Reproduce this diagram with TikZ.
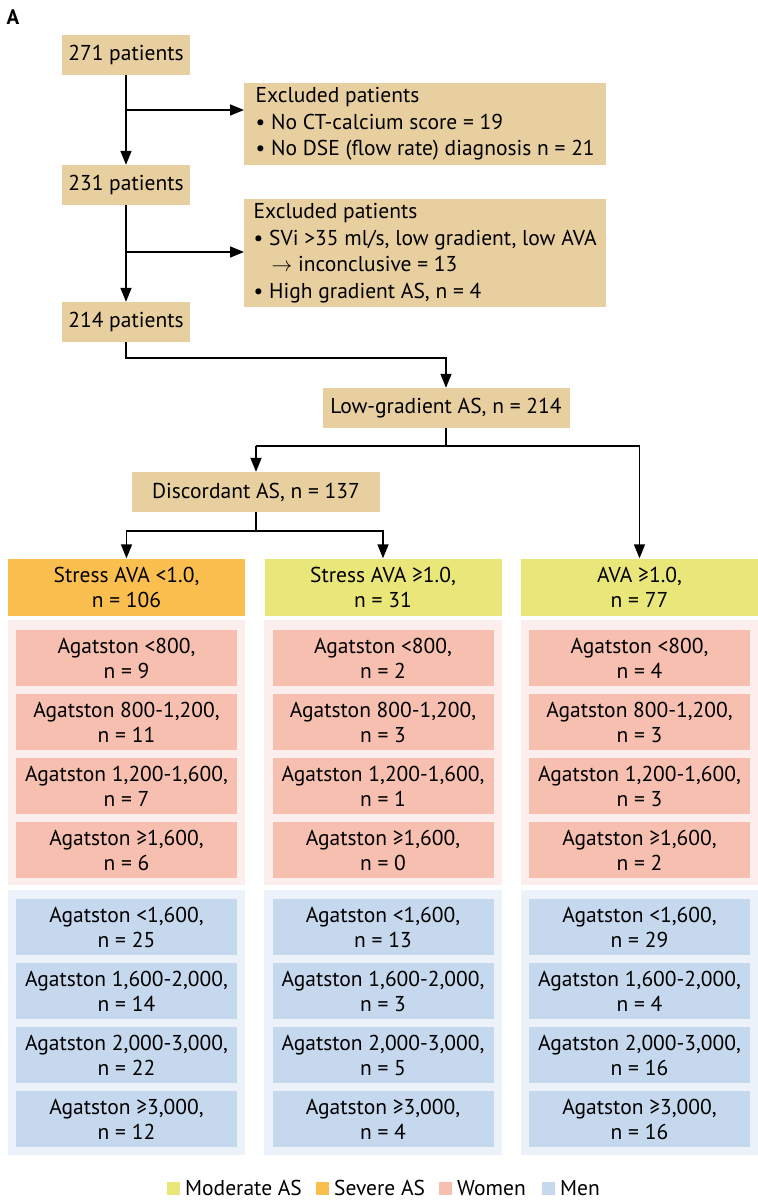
\documentclass[tikz,border=0pt]{standalone}
\usepackage{fontspec}
\setmainfont{PT Sans}
\usetikzlibrary{arrows.meta}
\definecolor{tan}{HTML}{E8CFA0}
\definecolor{sev}{HTML}{FBBF4F}
\definecolor{mod}{HTML}{EAE77A}
\definecolor{wom}{HTML}{F6BFB0}
\definecolor{men}{HTML}{C5D8EE}
\definecolor{wbg}{HTML}{FCEEEC}
\definecolor{mbg}{HTML}{EBF2FA}
\begin{document}
\begin{tikzpicture}[x=1pt,y=-1pt,
  every node/.style={font=\fontsize{21.5}{25}\selectfont, inner sep=0pt},
  tb/.style={fill=tan, minimum height=40pt, align=center},
  ex/.style={fill=tan, align=left, minimum width=362pt, anchor=north west, font=\fontsize{21.5}{26.5}\selectfont},
  hd/.style={minimum width=237pt, minimum height=57pt, align=center},
  cell/.style={minimum width=221pt, minimum height=56pt, align=center},
  ln/.style={line width=1.6pt},
  ar/.style={line width=1.6pt,-{Triangle[length=14pt,width=11pt]}}]
\useasboundingbox (0,0) rectangle (758,1200);
\node[font=\fontsize{21}{25}\selectfont\bfseries] (A) at (13,17) {A};
\node[tb, minimum width=128pt] (p271) at (126,55) {271 patients};
\node[tb, minimum width=128pt] (p231) at (126,185) {231 patients};
\node[tb, minimum width=128pt] (p214) at (126,322) {214 patients};
\node[ex, minimum height=82pt] (e1) at (244,83) {Excluded patients\\\textbullet{} No CT-calcium score = 19\\\textbullet{} No DSE (flow rate) diagnosis n = 21};
\node[ex, minimum height=108pt] (e2) at (244,199) {Excluded patients\\\textbullet{} SVi >35 ml/s, low gradient, low AVA\\\hspace*{18pt}$\rightarrow$ inconclusive = 13\\\textbullet{} High gradient AS, n = 4};
\node[tb, minimum width=247pt] (lg) at (446,408) {Low-gradient AS, n = 214};
\node[tb, minimum width=248pt] (dc) at (256,492) {Discordant AS, n = 137};
% panels
\fill[wbg] (8,620) rectangle (245,885);
\fill[wbg] (264,620) rectangle (502,885);
\fill[wbg] (521,620) rectangle (758,885);
\fill[mbg] (8,890) rectangle (245,1155);
\fill[mbg] (264,890) rectangle (502,1155);
\fill[mbg] (521,890) rectangle (758,1155);
\node[hd, fill=sev] (h1) at (126.5,587) {Stress AVA <1.0,\\n = 106};
\node[hd, fill=mod] (h2) at (383,587) {Stress AVA ≥1.0,\\n = 31};
\node[hd, fill=mod] (h3) at (639.5,587) {AVA ≥1.0,\\n = 77};
\foreach \c/\x/\a/\b/\cc/\d/\e/\f/\g/\h in {1/126.5/9/11/7/6/25/14/22/12, 2/383/2/3/1/0/13/3/5/4, 3/639.5/4/3/3/2/29/4/16/16}{
  \node[cell, fill=wom] (w1\c) at (\x,658) {Agatston <800,\\n = \a};
  \node[cell, fill=wom] (w2\c) at (\x,722) {Agatston 800-1,200,\\n = \b};
  \node[cell, fill=wom] (w3\c) at (\x,786) {Agatston 1,200-1,600,\\n = \cc};
  \node[cell, fill=wom] (w4\c) at (\x,850) {Agatston ≥1,600,\\n = \d};
  \node[cell, fill=men] (m1\c) at (\x,927) {Agatston <1,600,\\n = \e};
  \node[cell, fill=men] (m2\c) at (\x,991) {Agatston 1,600-2,000,\\n = \f};
  \node[cell, fill=men] (m3\c) at (\x,1055) {Agatston 2,000-3,000,\\n = \g};
  \node[cell, fill=men] (m4\c) at (\x,1119) {Agatston ≥3,000,\\n = \h};
}
% connectors
\coordinate (b1) at (126,110);
\coordinate (b2) at (126,252);
\draw[ar] (p271) -- (p231);
\draw[ar] (b1) -- (b1 -| e1.west);
\draw[ar] (p231) -- (p214);
\draw[ar] (b2) -- (b2 -| e2.west);
\draw[ar] (p214.south) |- (446,358) -- (lg.north);
\coordinate (j1) at (446,446);
\draw[ln] (lg.south) -- (j1);
\draw[ar] (256,446) -- (dc.north);
\draw[ar] (256,446) -| (h3.north);
\draw[ln] (256,446) -- (j1);
\draw[ln] (dc.south) -- (256,531);
\draw[ar] (256,531) -| (h1.north);
\draw[ar] (256,531) -| (h2.north);
% legend
\node[fill=mod, minimum size=13pt] (l1) at (173,1188) {};
\node[anchor=west] (t1) at (185,1188) {Moderate AS};
\node[fill=sev, minimum size=13pt] (l2) at (322,1188) {};
\node[anchor=west] (t2) at (334,1188) {Severe AS};
\node[fill=wom, minimum size=13pt] (l3) at (445,1188) {};
\node[anchor=west] (t3) at (457,1188) {Women};
\node[fill=men, minimum size=13pt] (l4) at (548,1188) {};
\node[anchor=west] (t4) at (560,1188) {Men};
\end{tikzpicture}
\end{document}
